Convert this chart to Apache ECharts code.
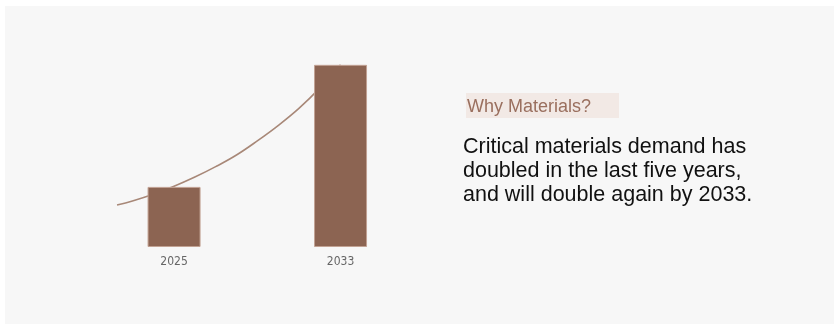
<!DOCTYPE html>
<html>
<head>
<meta charset="utf-8">
<script src="https://cdn.jsdelivr.net/npm/echarts@6/dist/echarts.min.js"></script>
<style>
html,body{margin:0;padding:0;background:#ffffff;}
#chart{width:837px;height:326px;}
</style>
</head>
<body>
<div id="chart"></div>
<script>
// Bars: year -> value (relative demand units)
const barYears = [2025, 2033];
const barValues = [0.98, 2.97];
// Trend curve: [year, value]
const trendYears = [2022.26, 2023, 2024, 2025, 2026, 2027, 2028, 2029, 2030, 2031, 2032, 2033];
const trendValues = [0.685, 0.75, 0.86, 0.99, 1.14, 1.31, 1.50, 1.73, 1.98, 2.26, 2.59, 2.97];
const tickLabels = [2025, 2033];
const heading = 'Why Materials?';
const bodyLines = ['Critical materials demand has', 'doubled in the last five years,', 'and will double again by 2033.'];

const chart = echarts.init(document.getElementById('chart'), null, {renderer: 'canvas'});
const font = '"Liberation Sans", Arial, sans-serif';
const bodyY = [147, 171, 195];

const graphics = [
  {type: 'rect', z: -10, shape: {x: 5, y: 6, width: 829, height: 318}, style: {fill: '#f7f7f7'}, silent: true},
  {type: 'rect', shape: {x: 466, y: 93, width: 153, height: 25}, style: {fill: '#f2e9e5'}},
  {type: 'text', x: 467, y: 107.4, style: {text: heading, fill: '#9a6f5e', font: '18px ' + font, verticalAlign: 'middle'}}
];
bodyLines.forEach((t, i) => {
  graphics.push({type: 'text', x: 463, y: bodyY[i],
    style: {text: t, fill: '#111111', font: '21.5px ' + font, verticalAlign: 'middle'}});
});

const option = {
  backgroundColor: '#ffffff',
  animation: false,
  grid: {left: 70, right: 392.4, top: 63, bottom: 79},
  xAxis: {
    type: 'value', min: 2020, max: 2038,
    axisLine: {show: false}, axisTick: {show: false}, splitLine: {show: false},
    axisLabel: {
      customValues: tickLabels,
      formatter: v => String(v),
      color: '#666666', fontSize: 12, fontFamily: '"Liberation Sans Narrow", "DejaVu Sans Condensed", sans-serif',
      margin: 9
    }
  },
  yAxis: {
    type: 'value', min: 0, max: 3, interval: 1,
    axisLine: {show: false}, axisTick: {show: false}, splitLine: {show: false},
    axisLabel: {show: false}
  },
  graphic: graphics,
  series: [
    {
      type: 'line', z: 1, smooth: 0.4, symbol: 'none',
      data: trendYears.map((y, i) => [y, trendValues[i]]),
      lineStyle: {color: '#a88878', width: 1.6}
    },
    {
      type: 'bar', z: 3, barWidth: 53,
      data: barYears.map((y, i) => [y, barValues[i]]),
      itemStyle: {color: '#8c6452', borderColor: '#c2a293', borderWidth: 1}
    }
  ]
};
chart.setOption(option);
</script>
</body>
</html>
